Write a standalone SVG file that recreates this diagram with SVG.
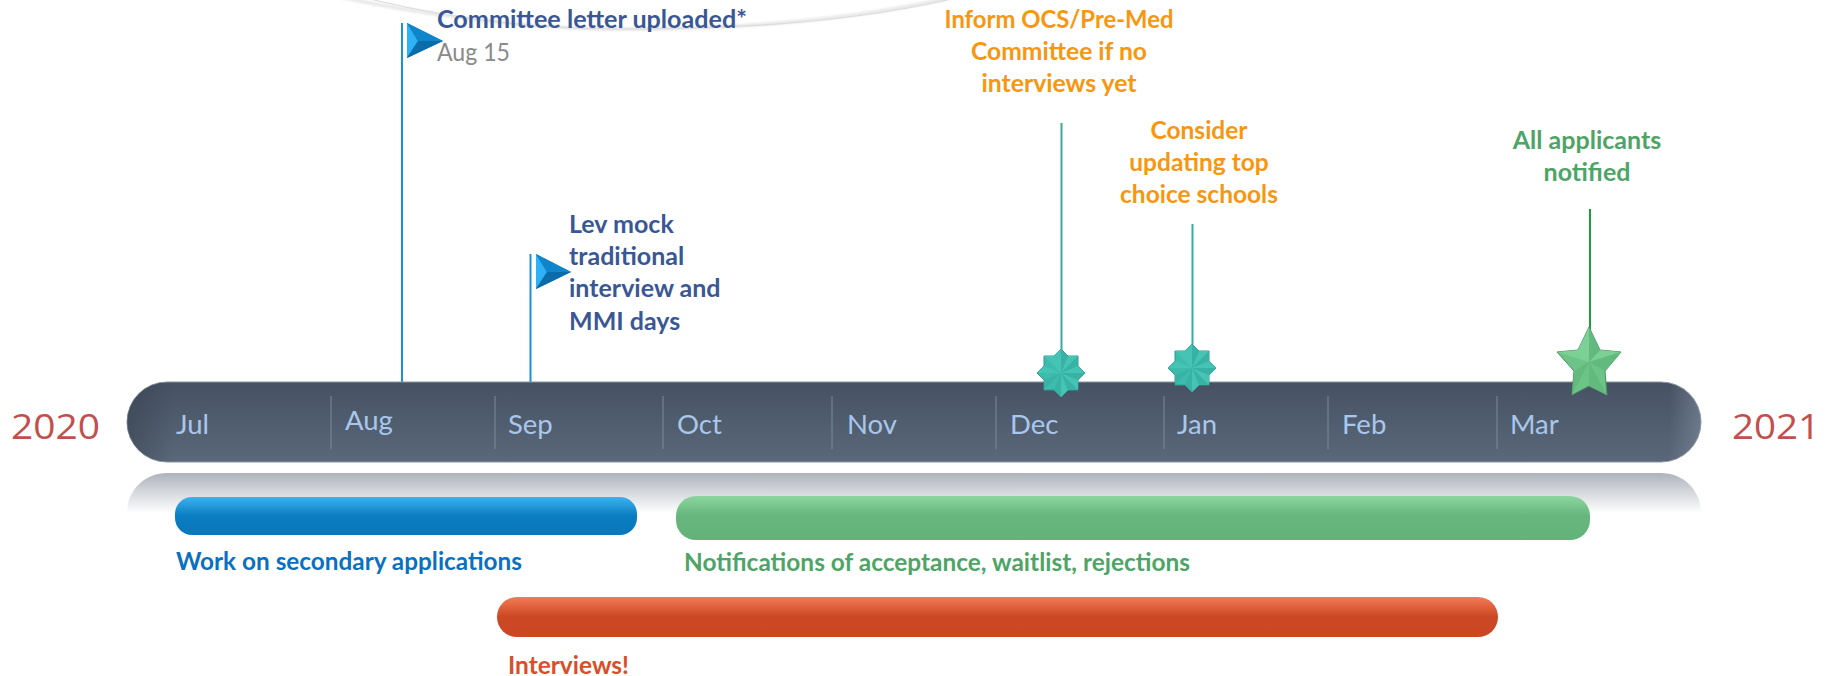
<svg xmlns="http://www.w3.org/2000/svg" width="1833" height="676" viewBox="0 0 1833 676">
<style>
text{font-family:"Lato","Open Sans","Liberation Sans",sans-serif}
.b{font-weight:700;font-size:25px}
.navy{fill:#3a5795}.or{fill:#f7960f;text-anchor:middle;font-size:24.5px}.gr{fill:#4ea466}
.m{font-size:27.5px;fill:#a9c7ec}
.y{font-size:35px;fill:#c0504d;font-family:"Open Sans","Liberation Sans",sans-serif}
.sep{stroke:#7c899c;stroke-width:1}
.teal{fill:none;stroke:#3aa9a0;stroke-width:2}
.pole{fill:none;stroke:#1c8fd6;stroke-width:2}
</style>
<defs>
<linearGradient id="bar" x1="0" y1="0" x2="0" y2="1"><stop offset="0" stop-color="#465263"/><stop offset="1" stop-color="#5a6879"/></linearGradient>
<linearGradient id="barEnds" x1="0" y1="0" x2="1" y2="0"><stop offset="0" stop-color="#333d4b" stop-opacity=".5"/><stop offset=".03" stop-color="#333d4b" stop-opacity="0"/><stop offset=".98" stop-color="#8e9bad" stop-opacity="0"/><stop offset="1" stop-color="#8e9bad" stop-opacity=".45"/></linearGradient>
<linearGradient id="refl" x1="0" y1="0" x2="0" y2="1"><stop offset="0" stop-color="#aeb3bb"/><stop offset="1" stop-color="#ffffff"/></linearGradient>
<linearGradient id="blue" x1="0" y1="0" x2="0" y2="1"><stop offset="0" stop-color="#3db2ef"/><stop offset=".5" stop-color="#0a7cc0"/><stop offset="1" stop-color="#0878bc"/></linearGradient>
<linearGradient id="green" x1="0" y1="0" x2="0" y2="1"><stop offset="0" stop-color="#8cd6a0"/><stop offset=".45" stop-color="#66b67d"/><stop offset="1" stop-color="#62b279"/></linearGradient>
<linearGradient id="red" x1="0" y1="0" x2="0" y2="1"><stop offset="0" stop-color="#f47a55"/><stop offset=".5" stop-color="#cc4723"/><stop offset="1" stop-color="#cb4623"/></linearGradient>
<filter id="soft" x="-5%" y="-100%" width="110%" height="300%"><feGaussianBlur stdDeviation="1.2"/></filter>
<g id="s8">
<polygon points="0,-24 7,-17 17,-17 17,-7 24,0 17,7 17,17 7,17 0,24 -7,17 -17,17 -17,7 -24,0 -17,-7 -17,-17 -7,-17" fill="#3dbcae" stroke="#2f9a8f" stroke-width="1"/>
<path fill="#45c4b6" d="M0,0L-7,-17L0,-24ZM0,0L7,-17L17,-17ZM0,0L17,-7L24,0ZM0,0L-17,-7L-24,0ZM0,0L-17,-17L-7,-17ZM0,0L17,7L17,17ZM0,0L7,17L0,24ZM0,0L-17,7L-17,17Z"/>
<path fill="#38b2a5" d="M0,0L0,-24L7,-17ZM0,0L17,-17L17,-7ZM0,0L24,0L17,7ZM0,0L17,17L7,17ZM0,0L0,24L-7,17ZM0,0L-17,17L-17,7Z"/>
</g>
</defs>
<g id="top-shadow"><path d="M340,-3C420,14 520,28 610,29C730,30 850,20 950,-2" fill="none" stroke="#e8e8e8" stroke-width="3.5" filter="url(#soft)"/><path d="M374,0C440,16 520,28 610,29C730,30 850,22 947,0" fill="none" stroke="#dcdcdc" stroke-width="1.2"/></g>
<g id="connectors">
<path class="pole" d="M402,23V382"/><path class="pole" d="M530.5,254V382"/>
<path class="teal" d="M1061.5,123V350"/><path class="teal" d="M1192.5,224V345"/>
<path fill="none" stroke="#1e9b3c" stroke-width="2" d="M1590,209V330"/>
</g>
<g id="reflection"><path d="M127,513C127,490 145,473 167,473H1661C1683,473 1701,490 1701,513Z" fill="url(#refl)"/></g>
<g id="timeline">
<rect x="127" y="382" width="1574" height="80" rx="40" fill="url(#bar)" stroke="#8b95a3" stroke-width="1"/>
<rect x="127" y="382" width="1574" height="80" rx="40" fill="url(#barEnds)"/>
<path class="sep" d="M331,396V449M495,396V449M663,396V449M832,396V449M996,396V449M1164,396V449M1328,396V449M1497,396V449"/>
<text class="m" x="176" y="434">Jul</text><text class="m" x="345" y="430">Aug</text><text class="m" x="508" y="434">Sep</text><text class="m" x="677" y="434">Oct</text><text class="m" x="847" y="434">Nov</text><text class="m" x="1010" y="434">Dec</text><text class="m" x="1177" y="434">Jan</text><text class="m" x="1342" y="434">Feb</text><text class="m" x="1510" y="434">Mar</text>
</g>
<g id="year-2020"><text class="y" x="11" y="439" textLength="89" lengthAdjust="spacingAndGlyphs">2020</text></g>
<g id="year-2021"><text class="y" x="1732" y="439" textLength="88" lengthAdjust="spacingAndGlyphs">2021</text></g>
<g id="flag-committee">
<polygon points="407,23 443,41 407,58" fill="#0a78bc"/><polygon points="407,23 418,41 407,58" fill="#2fb2f5"/><polygon points="407,23 443,41 418,41" fill="#0f86cc"/><polygon points="407,58 443,41 418,41" fill="#0a6ca8"/>
<text class="b navy" x="437" y="28" textLength="310" lengthAdjust="spacingAndGlyphs">Committee letter uploaded*</text>
<text x="437" y="61" font-size="25" fill="#8a8a8a" textLength="73" lengthAdjust="spacingAndGlyphs">Aug 15</text>
</g>
<g id="flag-lev">
<polygon points="536,254 571,272 536,289" fill="#0a78bc"/><polygon points="536,254 547,272 536,289" fill="#2fb2f5"/><polygon points="536,254 571,272 547,272" fill="#0f86cc"/><polygon points="536,289 571,272 547,272" fill="#0a6ca8"/>
<text class="b navy" x="569" y="233">Lev mock</text><text class="b navy" x="569" y="265">traditional</text><text class="b navy" x="569" y="297">interview and</text><text class="b navy" x="569" y="330">MMI days</text>
</g>
<g id="marker-inform"><use href="#s8" x="1061" y="373"/>
<text class="b or" x="1059" y="28" textLength="229" lengthAdjust="spacingAndGlyphs">Inform OCS/Pre-Med</text><text class="b or" x="1059" y="60" textLength="176" lengthAdjust="spacingAndGlyphs">Committee if no</text><text class="b or" x="1059" y="92" textLength="155" lengthAdjust="spacingAndGlyphs">interviews yet</text></g>
<g id="marker-consider"><use href="#s8" x="1192" y="368"/>
<text class="b or" x="1199" y="139">Consider</text><text class="b or" x="1199" y="171">updating top</text><text class="b or" x="1199" y="203">choice schools</text></g>
<g id="marker-all">
<polygon points="1589,327 1600,350 1621,352 1605,371 1607,395 1589,386 1572,395 1574,371 1557,352 1578,350" fill="#6cc486" stroke="#4a8f60" stroke-width="1"/>
<path fill="#7ccf95" d="M1589,327L1578,350L1589,362ZM1557,352L1578,350L1589,362ZM1621,352L1600,350L1589,362Z"/>
<path fill="#62ba7e" d="M1589,327L1600,350L1589,362ZM1621,352L1605,371L1589,362ZM1607,395L1589,386L1589,362ZM1572,395L1574,371L1589,362Z"/>
<text class="b gr" x="1587" y="149" text-anchor="middle">All applicants</text><text class="b gr" x="1587" y="181" text-anchor="middle">notified</text></g>
<g id="span-secondary"><rect x="175" y="497" width="462" height="38" rx="17" fill="url(#blue)"/>
<text class="b" x="176" y="570" fill="#0a70c0" textLength="346" lengthAdjust="spacingAndGlyphs">Work on secondary applications</text></g>
<g id="span-notifications"><rect x="676" y="496" width="914" height="44" rx="20" fill="url(#green)"/>
<text class="b gr" x="684" y="571" textLength="506" lengthAdjust="spacingAndGlyphs">Notifications of acceptance, waitlist, rejections</text></g>
<g id="span-interviews"><rect x="497" y="597" width="1001" height="40" rx="20" fill="url(#red)"/>
<text class="b" x="508" y="674" fill="#d84f2a" textLength="121" lengthAdjust="spacingAndGlyphs">Interviews!</text></g>
</svg>
